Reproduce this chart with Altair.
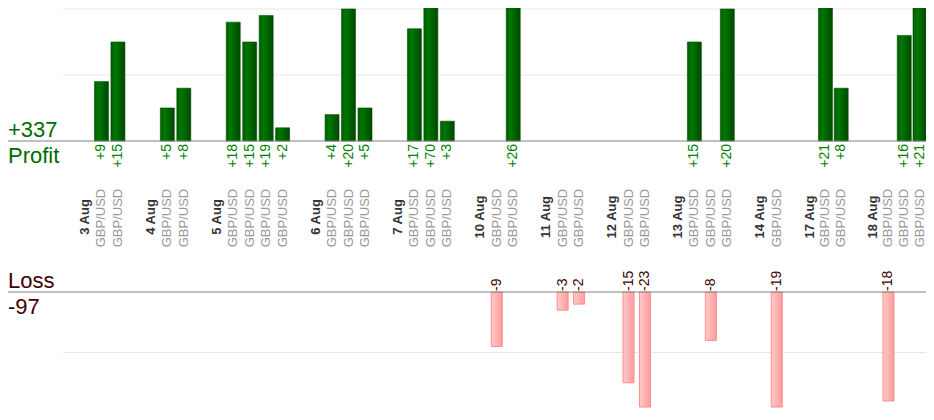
import altair as alt
import pandas as pd

# ---- data ----
dates = ["3 Aug", "4 Aug", "5 Aug", "6 Aug", "7 Aug", "10 Aug", "11 Aug",
         "12 Aug", "13 Aug", "14 Aug", "17 Aug", "18 Aug"]
trades = [
    [9, 15],
    [5, 8],
    [18, 15, 19, 2],
    [4, 20, 5],
    [17, 70, 3],
    [-9, 26],
    [-3, -2],
    [-15, -23],
    [15, -8, 20],
    [-19],
    [21, 8],
    [-18, 16, 21],
]
pair = "GBP/USD"
profit_grid = [10, 20]
loss_grid = [10]

# ---- build tables: one slot for the date, one per trade, one gap ----
date_rows, trade_rows = [], []
slot = 0
for d, tlist in zip(dates, trades):
    date_rows.append({"slot": slot, "date": d})
    slot += 1
    for v in tlist:
        trade_rows.append({
            "slot": slot, "pair": pair, "pnl": v,
            "profit": v if v > 0 else None,
            "loss": -v if v < 0 else None,
            "label": (f"+{v}" if v > 0 else f"{v}"),
            "zero": 0,
        })
        slot += 1
    slot += 1
n_slots = slot - 1

dates_df = pd.DataFrame(date_rows)
tr_df = pd.DataFrame(trade_rows)
prof_df = tr_df[tr_df["pnl"] > 0].copy()
loss_df = tr_df[tr_df["pnl"] < 0].copy()

total_profit = int(prof_df["pnl"].sum())
total_loss = int(loss_df["pnl"].sum())

FONT = "Liberation Sans"
W, H = 918, 402
STEP = 16.47
KNEE = 44          # slot where spacing starts to tighten to fit the last bar


def px(v):
    """page position -> chart coordinate (8px page margin)"""
    return v - 8


xs = alt.Scale(domain=[0, KNEE, n_slots - 1],
               range=[px(85), px(85 + KNEE * STEP), px(920)],
               padding=0, nice=False, zero=False)
ps = alt.Scale(domain=[0, 20.15], range=[px(141), 0],
               clamp=True, zero=True, nice=False, padding=0)
ls = alt.Scale(domain=[0, 19], range=[px(292), px(407)],
               clamp=True, zero=True, nice=False, padding=0)
ids = alt.Scale(domain=[0, H], range=[0, H], nice=False, zero=False, padding=0)

X = alt.X("slot:Q", scale=xs, axis=None)

pgrid = alt.Chart(pd.DataFrame({"v": profit_grid})).mark_rule(
    color="#e6e6e6", strokeWidth=1
).encode(
    y=alt.Y("v:Q", scale=ps, axis=None), x=alt.value(px(63)), x2=alt.value(W)
)
lgrid = alt.Chart(pd.DataFrame({"v": loss_grid})).mark_rule(
    color="#e6e6e6", strokeWidth=1
).encode(
    y=alt.Y("v:Q", scale=ls, axis=None), x=alt.value(px(63)), x2=alt.value(W)
)
pbase = alt.Chart(pd.DataFrame({"v": [0]})).mark_rule(
    color="#808080", strokeWidth=1
).encode(
    y=alt.Y("v:Q", scale=ps, axis=None), x=alt.value(0), x2=alt.value(W)
)
lbase = alt.Chart(pd.DataFrame({"v": [0]})).mark_rule(
    color="#808080", strokeWidth=1
).encode(
    y=alt.Y("v:Q", scale=ls, axis=None), x=alt.value(0), x2=alt.value(W)
)

green_grad = alt.Gradient(
    gradient="linear",
    stops=[alt.GradientStop(color="#005c00", offset=0),
           alt.GradientStop(color="#007800", offset=0.3),
           alt.GradientStop(color="#004800", offset=1)],
    x1=0, x2=1, y1=0, y2=0,
)
pink_grad = alt.Gradient(
    gradient="linear",
    stops=[alt.GradientStop(color="#ffcaca", offset=0),
           alt.GradientStop(color="#ff9c9c", offset=1)],
    x1=0, x2=1, y1=0, y2=0,
)

pbars = alt.Chart(prof_df).mark_bar(
    size=14, fill=green_grad, stroke="#005000", strokeWidth=0.6, clip=True
).encode(
    x=X,
    y=alt.Y("profit:Q", scale=ps, axis=None),
    y2=alt.Y2("zero:Q"),
)
lbars = alt.Chart(loss_df).mark_bar(
    size=11, fill=pink_grad, stroke="#ff8c8c", strokeWidth=1, clip=True
).encode(
    x=X,
    y=alt.Y("loss:Q", scale=ls, axis=None),
    y2=alt.Y2("zero:Q"),
)

plabels = alt.Chart(prof_df).mark_text(
    angle=270, align="right", baseline="middle", dx=-3,
    font=FONT, fontSize=14, color="#008000"
).encode(
    x=X, y=alt.Y("zero:Q", scale=ps, axis=None), text="label:N"
)
llabels = alt.Chart(loss_df).mark_text(
    angle=270, align="left", baseline="middle", dx=1,
    font=FONT, fontSize=14, color="#400000"
).encode(
    x=X, y=alt.Y("zero:Q", scale=ls, axis=None), text="label:N"
)

date_labels = alt.Chart(dates_df).mark_text(
    angle=270, align="center", baseline="middle",
    font=FONT, fontSize=13, fontWeight="bold", color="#333333"
).encode(x=X, y=alt.value(px(217)), text="date:N")

pair_labels = alt.Chart(tr_df).mark_text(
    angle=270, align="center", baseline="middle",
    font=FONT, fontSize=13, color="#999999"
).encode(x=X, y=alt.value(px(218)), text="pair:N")

side_green = alt.Chart(pd.DataFrame({
    "t": [f"+{total_profit}", "Profit"], "yy": [px(137), px(163)]
})).mark_text(
    align="left", baseline="alphabetic", font=FONT, fontSize=22, color="#006c00"
).encode(x=alt.value(0), y=alt.Y("yy:Q", scale=ids, axis=None), text="t:N")

side_red = alt.Chart(pd.DataFrame({
    "t": ["Loss", f"{total_loss}"], "yy": [px(288), px(314)]
})).mark_text(
    align="left", baseline="alphabetic", font=FONT, fontSize=22, color="#400000"
).encode(x=alt.value(0), y=alt.Y("yy:Q", scale=ids, axis=None), text="t:N")

chart = alt.layer(
    pgrid, lgrid, pbars, lbars, pbase, lbase,
    plabels, llabels, date_labels, pair_labels, side_green, side_red
).resolve_scale(y="independent").properties(
    width=W, height=H, padding=0, autosize=alt.AutoSizeParams(type="none")
).configure_view(stroke=None)

chart.save("out.html", embed_options={"renderer": "svg", "actions": False})
